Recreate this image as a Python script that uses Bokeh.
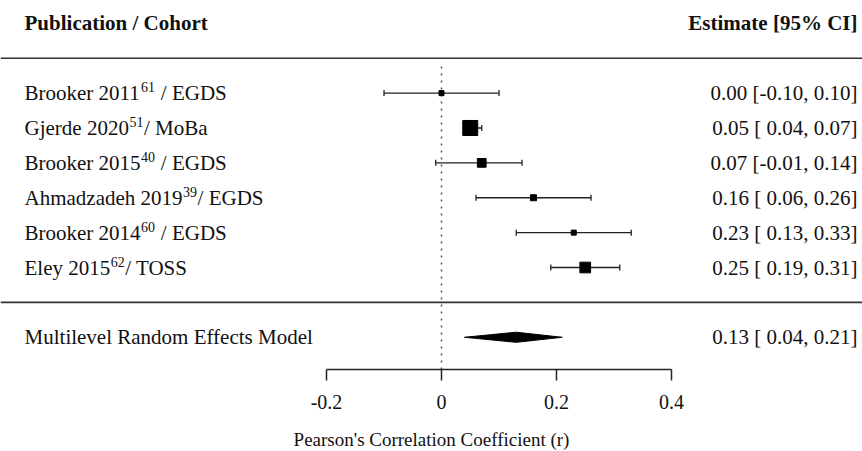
from bokeh.plotting import figure
from bokeh.models import Range1d, FixedTicker, Whisker, ColumnDataSource, Span, TeeHead
from bokeh.core.properties import value
from bokeh.embed import file_html
from bokeh.resources import INLINE

# ---- data ----
authors = ["Brooker 2011", "Gjerde 2020", "Brooker 2015",
           "Ahmadzadeh 2019", "Brooker 2014", "Eley 2015"]
refs = ["61", "51", "40", "39", "60", "62"]
cohorts = [" / EGDS", "/ MoBa", " / EGDS", "/ EGDS", " / EGDS", "/ TOSS"]
estimate = [0.00, 0.05, 0.07, 0.16, 0.23, 0.25]
ci_low = [-0.10, 0.04, -0.01, 0.06, 0.13, 0.19]
ci_high = [0.10, 0.07, 0.14, 0.26, 0.33, 0.31]
weights = [5.0, 44.9, 15.2, 7.2, 5.0, 22.8]   # relative weights (box area)

model_label = "Multilevel Random Effects Model"
model_est = 0.13
model_low = 0.04
model_high = 0.21

tick_values = [-0.2, 0, 0.2, 0.4]
tick_labels = ["-0.2", "0", "0.2", "0.4"]
header_left = "Publication / Cohort"
header_right = "Estimate [95% CI]"
x_title = "Pearson's Correlation Coefficient (r)"

# ---- layout ----
FONT = value("Liberation Serif")
FS = 21      # main font size, px
SFS = 14     # superscript font size, px

# Times-compatible advance widths (em) used to place the superscripts
ADV = {" ": .25, "/": .278, "B": .667, "r": .333, "o": .5, "k": .5, "e": .444,
       "G": .722, "j": .278, "d": .5, "E": .611, "D": .722, "S": .556, "M": .889,
       "a": .444, "A": .722, "h": .5, "m": .778, "z": .444, "l": .278, "y": .5,
       "T": .611, "O": .722, "b": .5}
def text_w(s, size):
    return sum(ADV.get(c, .5) for c in s) * size

n = len(authors)
rows = [n - i for i in range(n)]
model_row = -1
header_row = n + 2
x_lo, x_hi = -0.7670, 0.7322
y_lo, y_hi = -1.924, 8.655
x_left_text = -0.7252
x_right_text = 0.7235

p = figure(frame_width=862, frame_height=369, min_border=0,
           x_range=Range1d(x_lo, x_hi), y_range=Range1d(y_lo, y_hi),
           output_backend="svg", toolbar_location=None, y_axis_location=None)
p.grid.visible = False
p.outline_line_color = None
p.background_fill_color = "white"
p.border_fill_color = "white"

# horizontal separators
for r in (n + 1, 0):
    p.add_layout(Span(location=r, dimension="width", line_color="#333333", line_width=1.6))

# reference line at 0
p.segment(x0=[0], y0=[y_lo], x1=[0], y1=[n + 0.82], line_color="#555555",
          line_width=1.5, line_dash="2 5")

# confidence intervals
src = ColumnDataSource(dict(y=rows, lo=ci_low, hi=ci_high, est=estimate,
                            size=[2.24 * w ** 0.5 for w in weights]))
wh = Whisker(base="y", lower="lo", upper="hi", dimension="width", source=src,
             line_color="#222222", line_width=1.3,
             lower_head=TeeHead(size=6, line_color="#222222", line_width=1.3),
             upper_head=TeeHead(size=6, line_color="#222222", line_width=1.3))
p.add_layout(wh)
p.scatter(x="est", y="y", size="size", marker="square", source=src,
          fill_color="black", line_color="black")

# summary diamond
h = 0.145
p.patch(x=[model_low, model_est, model_high, model_est],
        y=[model_row, model_row + h, model_row, model_row - h],
        fill_color="black", line_color="black", line_width=1)

# left column texts: author/year, superscript reference, cohort
base_w = [text_w(a, FS) for a in authors]
sup_w = [text_w(s, SFS) for s in refs]
lead_w = [text_w(c[:len(c) - len(c.lstrip())], FS) for c in cohorts]
lab = ColumnDataSource(dict(
    x=[x_left_text] * n, y=rows, author=authors, ref=refs,
    cohort=[c.lstrip() for c in cohorts],
    sup_off=[b + 0.5 for b in base_w],
    tail_off=[b + s + l + 1.0 for b, s, l in zip(base_w, sup_w, lead_w)]))
common = dict(text_font=FONT, text_baseline="middle", text_align="left", text_color="#111111")
p.text(x="x", y="y", text="author", source=lab, text_font_size=f"{FS}px", **common)
p.text(x="x", y="y", text="ref", source=lab, x_offset="sup_off", y_offset=-6,
       text_font_size=f"{SFS}px", **common)
p.text(x="x", y="y", text="cohort", source=lab, x_offset="tail_off",
       text_font_size=f"{FS}px", **common)
p.text(x=[x_left_text], y=[model_row], text=[model_label], text_font_size=f"{FS}px", **common)

# right column texts
right_labels = [f"{e:.2f} [{l:5.2f}, {u:.2f}]" for e, l, u in zip(estimate, ci_low, ci_high)]
model_right = f"{model_est:.2f} [{model_low:5.2f}, {model_high:.2f}]"
p.text(x=[x_right_text] * (n + 1), y=rows + [model_row], text=right_labels + [model_right],
       text_font=FONT, text_font_size=f"{FS}px", text_baseline="middle",
       text_align="right", text_color="#111111")

# headers
p.text(x=[x_left_text], y=[header_row], text=[header_left], text_font=FONT,
       text_font_size=f"{FS}px", text_font_style="bold", text_baseline="middle",
       text_align="left", text_color="#111111")
p.text(x=[x_right_text], y=[header_row], text=[header_right], text_font=FONT,
       text_font_size=f"{FS}px", text_font_style="bold", text_baseline="middle",
       text_align="right", text_color="#111111")

# x axis
ax = p.xaxis[0]
ax.ticker = FixedTicker(ticks=tick_values)
ax.major_label_overrides = dict(zip(tick_values, tick_labels))
ax.bounds = (tick_values[0], tick_values[-1])
ax.axis_line_width = 1.5
ax.axis_line_color = "#222222"
ax.major_tick_line_width = 1.5
ax.major_tick_line_color = "#222222"
ax.major_tick_in = 0
ax.major_tick_out = 11
ax.minor_tick_line_color = None
ax.major_label_standoff = 14
ax.major_label_text_font = "Liberation Serif"
ax.major_label_text_font_size = "20px"
ax.major_label_text_color = "#111111"
ax.axis_label = x_title
ax.axis_label_standoff = 17
ax.axis_label_text_font = "Liberation Serif"
ax.axis_label_text_font_size = "19px"
ax.axis_label_text_font_style = "normal"
ax.axis_label_text_color = "#111111"

open("out.html", "w").write(file_html(p, INLINE))
